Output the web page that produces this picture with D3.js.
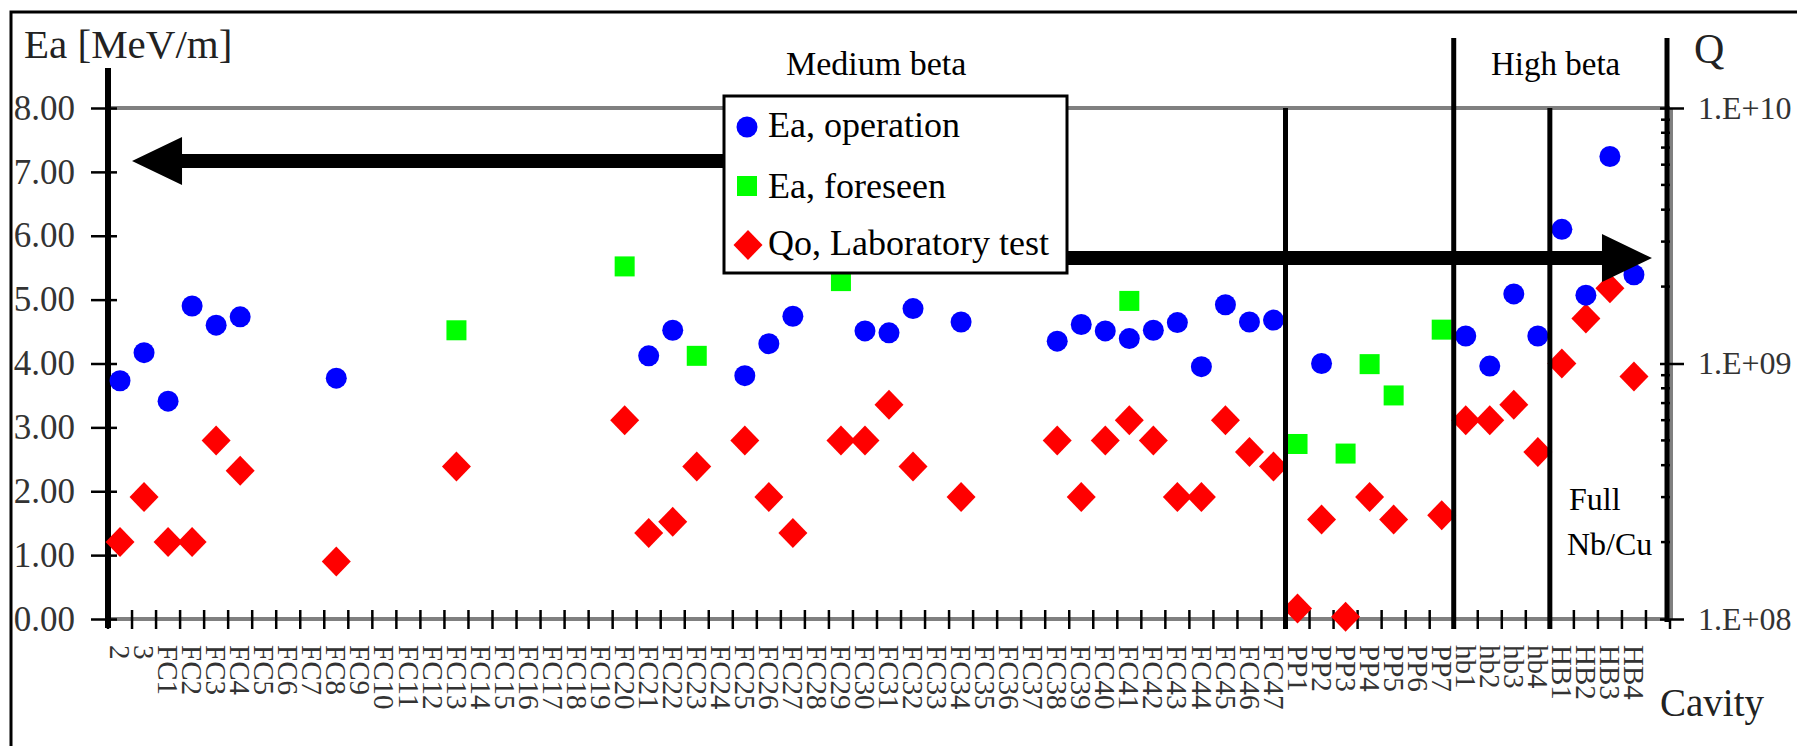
<!DOCTYPE html>
<html>
<head>
<meta charset="utf-8">
<script src="https://cdn.jsdelivr.net/npm/d3@7"></script>
<style>
  html, body { margin: 0; padding: 0; background: #fff; }
  #chart, #chart text { font-family: "Liberation Serif", "Times New Roman", Tinos, serif !important; }
</style>
</head>
<body>
<svg id="chart" width="1797" height="746"></svg>
<script>
// Cavity names along the horizontal axis
const categories = [
  "2", "3",
  "FC1", "FC2", "FC3", "FC4", "FC5", "FC6", "FC7", "FC8", "FC9", "FC10",
  "FC11", "FC12", "FC13", "FC14", "FC15", "FC16", "FC17", "FC18", "FC19", "FC20",
  "FC21", "FC22", "FC23", "FC24", "FC25", "FC26", "FC27", "FC28", "FC29", "FC30",
  "FC31", "FC32", "FC33", "FC34", "FC35", "FC36", "FC37", "FC38", "FC39", "FC40",
  "FC41", "FC42", "FC43", "FC44", "FC45", "FC46", "FC47",
  "PP1", "PP2", "PP3", "PP4", "PP5", "PP6", "PP7",
  "hb1", "hb2", "hb3", "hb4",
  "HB1", "HB2", "HB3", "HB4"
];

// Accelerating field in operation [MeV/m]
const eaOperation = [
  ["2", 3.73], ["3", 4.17], ["FC1", 3.41], ["FC2", 4.90], ["FC3", 4.60], ["FC4", 4.73],
  ["FC8", 3.77], ["FC21", 4.12], ["FC22", 4.52], ["FC25", 3.81], ["FC26", 4.31],
  ["FC27", 4.74], ["FC30", 4.51], ["FC31", 4.48], ["FC32", 4.86], ["FC34", 4.65],
  ["FC38", 4.35], ["FC39", 4.61], ["FC40", 4.51], ["FC41", 4.39], ["FC42", 4.52],
  ["FC43", 4.64], ["FC44", 3.95], ["FC45", 4.92], ["FC46", 4.65], ["FC47", 4.68],
  ["PP2", 4.00], ["hb1", 4.43], ["hb2", 3.96], ["hb3", 5.09], ["hb4", 4.43],
  ["HB1", 6.10], ["HB2", 5.07], ["HB3", 7.24], ["HB4", 5.39]
];

// Foreseen accelerating field [MeV/m]
const eaForeseen = [
  ["FC13", 4.52], ["FC20", 5.52], ["FC23", 4.12], ["FC29", 5.29], ["FC41", 4.98],
  ["PP1", 2.74], ["PP3", 2.59], ["PP4", 3.99], ["PP5", 3.50], ["PP7", 4.53]
];

// Quality factor Qo measured in the laboratory
const qoLaboratory = [
  ["2", 2.0e8], ["3", 3.0e8], ["FC1", 2.0e8], ["FC2", 2.0e8], ["FC3", 5.0e8], ["FC4", 3.8e8],
  ["FC8", 1.68e8], ["FC13", 3.95e8], ["FC20", 6.0e8], ["FC21", 2.17e8], ["FC22", 2.4e8],
  ["FC23", 3.95e8], ["FC25", 5.0e8], ["FC26", 3.0e8], ["FC27", 2.17e8], ["FC29", 5.0e8],
  ["FC30", 5.0e8], ["FC31", 6.9e8], ["FC32", 3.95e8], ["FC34", 3.0e8], ["FC38", 5.0e8],
  ["FC39", 3.0e8], ["FC40", 5.0e8], ["FC41", 6.0e8], ["FC42", 5.0e8], ["FC43", 3.0e8],
  ["FC44", 3.0e8], ["FC45", 6.0e8], ["FC46", 4.5e8], ["FC47", 3.95e8],
  ["PP1", 1.1e8], ["PP2", 2.45e8], ["PP3", 1.02e8], ["PP4", 3.0e8], ["PP5", 2.45e8],
  ["PP7", 2.55e8], ["hb1", 6.0e8], ["hb2", 6.0e8], ["hb3", 6.9e8], ["hb4", 4.5e8],
  ["HB1", 1.0e9], ["HB2", 1.5e9], ["HB3", 1.97e9], ["HB4", 8.9e8]
];

const eaTicks = [0, 1, 2, 3, 4, 5, 6, 7, 8];
const qTicks = [1e8, 1e9, 1e10];
const seriesNames = ["Ea, operation", "Ea, foreseen", "Qo, Laboratory test"];

// ---- layout ----
const X0 = 108, X1 = 1670, Y0 = 619, Y8 = 108;
const svg = d3.select("#chart");

// one trailing empty slot after the last cavity
const slotCount = categories.length + 1;
const x = d3.scaleBand().domain(d3.range(slotCount)).range([X0, X1]);
const bw = x.bandwidth();
const xEdge = i => X0 + i * bw;
const xc = name => x(categories.indexOf(name)) + bw / 2;

const y = d3.scaleLinear().domain([0, 8]).range([Y0, Y8]);
const q = d3.scaleLog().domain([1e8, 1e10]).range([Y0, Y8]);

// outer frame (top and left edges visible)
svg.append("path").attr("d", `M11,746 V12 H1797`)
  .attr("fill", "none").attr("stroke", "#000").attr("stroke-width", 3);

// grey lines at the top of the scale and at zero
[8, 0].forEach(v => {
  svg.append("line").attr("x1", X0).attr("x2", X1).attr("y1", y(v)).attr("y2", y(v))
    .attr("stroke", "#808080").attr("stroke-width", 4);
});

// category tick marks crossing the zero line
svg.append("g").selectAll("line").data(d3.range(slotCount + 1)).join("line")
  .attr("x1", i => xEdge(i)).attr("x2", i => xEdge(i))
  .attr("y1", Y0 - 9).attr("y2", Y0 + 10)
  .attr("stroke", "#000").attr("stroke-width", 2.5);

// category labels, vertical
svg.append("g").selectAll("text").data(categories).join("text")
  .attr("transform", d => `translate(${xc(d)},645) rotate(90)`)
  .attr("dy", "0.34em")
  .attr("font-size", 29)
  .attr("fill", "#333")
  .text(d => d);

// left axis
const leftAxis = svg.append("g").attr("transform", `translate(${X0},0)`)
  .call(d3.axisLeft(y).tickValues(eaTicks).tickFormat(d3.format(".2f"))
    .tickSizeInner(17).tickSizeOuter(0).tickPadding(16));
leftAxis.select(".domain").remove();
leftAxis.selectAll(".tick line").attr("x1", 9).attr("stroke", "#000").attr("stroke-width", 2.5);
leftAxis.selectAll(".tick text").attr("font-size", 35).attr("fill", "#333");
svg.append("line").attr("x1", X0).attr("x2", X0).attr("y1", 68).attr("y2", Y0 + 9)
  .attr("stroke", "#000").attr("stroke-width", 6);

// right axis (logarithmic Q)
svg.append("line").attr("x1", X1 + 1).attr("x2", X1 + 1).attr("y1", Y8).attr("y2", Y0)
  .attr("stroke", "#808080").attr("stroke-width", 4);
const minorQ = q.ticks().filter(v => !qTicks.includes(v));
svg.append("g").selectAll("line").data(minorQ).join("line")
  .attr("x1", X1 - 9).attr("x2", X1).attr("y1", d => q(d)).attr("y2", d => q(d))
  .attr("stroke", "#000").attr("stroke-width", 2.5);
const rightAxis = svg.append("g").attr("transform", `translate(${X1 - 3},0)`)
  .call(d3.axisRight(q).tickValues(qTicks)
    .tickFormat(d => "1.E+" + String(Math.round(Math.log10(d))).padStart(2, "0"))
    .tickSizeInner(17).tickSizeOuter(0).tickPadding(14));
rightAxis.select(".domain").remove();
rightAxis.selectAll(".tick line").attr("x1", -7).attr("stroke", "#000").attr("stroke-width", 2.5);
rightAxis.selectAll(".tick text").attr("font-size", 32).attr("fill", "#333");
svg.append("line").attr("x1", X1 - 3).attr("x2", X1 - 3).attr("y1", 38).attr("y2", Y0 + 3)
  .attr("stroke", "#000").attr("stroke-width", 5);

// section separators
const separators = [
  { at: categories.indexOf("PP1"), top: Y8 },
  { at: categories.indexOf("hb1"), top: 38 },
  { at: categories.indexOf("HB1"), top: Y8 }
];

// axis titles and section captions
svg.append("text").attr("x", 24).attr("y", 58).attr("font-size", 41).attr("fill", "#222").text("Ea [MeV/m]");
svg.append("text").attr("x", 1694).attr("y", 63).attr("font-size", 42).attr("fill", "#222").text("Q");
svg.append("text").attr("x", 1660).attr("y", 716).attr("font-size", 39).attr("fill", "#222").text("Cavity");
svg.append("text").attr("x", 786).attr("y", 75).attr("font-size", 34).text("Medium beta");
svg.append("text").attr("x", 1491).attr("y", 75).attr("font-size", 33).text("High beta");
svg.append("text").attr("x", 1569).attr("y", 510).attr("font-size", 32).text("Full");
svg.append("text").attr("x", 1567).attr("y", 555).attr("font-size", 32).text("Nb/Cu");

// markers
const circle = (g, cx, cy) => g.append("circle").attr("cx", cx).attr("cy", cy).attr("r", 10.5).attr("fill", "#0000ff");
const square = (g, cx, cy) => g.append("rect").attr("x", cx - 10).attr("y", cy - 10).attr("width", 20).attr("height", 20).attr("fill", "#00ff00");
const diamond = (g, cx, cy) => g.append("path")
  .attr("d", `M${cx},${cy - 15} L${cx + 14.5},${cy} L${cx},${cy + 15} L${cx - 14.5},${cy} Z`).attr("fill", "#ff0000");

const marks = svg.append("g");
qoLaboratory.forEach(([c, v]) => diamond(marks, xc(c), q(v)));
eaForeseen.forEach(([c, v]) => square(marks, xc(c), y(v)));
eaOperation.forEach(([c, v]) => circle(marks, xc(c), y(v)));

separators.forEach(s => {
  svg.append("line").attr("x1", xEdge(s.at)).attr("x2", xEdge(s.at))
    .attr("y1", s.top).attr("y2", Y0 + 10)
    .attr("stroke", "#000").attr("stroke-width", 5);
});

// direction arrows
function arrow(xTail, xTip, yv) {
  const cy = y(yv), dir = Math.sign(xTip - xTail), head = 50, half = 24, shaft = 7;
  const xb = xTip - dir * head;
  svg.append("path")
    .attr("d", `M${xTail},${cy - shaft} L${xb},${cy - shaft} L${xb},${cy - half} L${xTip},${cy}
                L${xb},${cy + half} L${xb},${cy + shaft} L${xTail},${cy + shaft} Z`)
    .attr("fill", "#000");
}
arrow(760, xEdge(1), 7.17);
arrow(1040, xEdge(64.25), 5.65);

// legend
const lg = svg.append("g");
lg.append("rect").attr("x", 724).attr("y", 96).attr("width", 343).attr("height", 177)
  .attr("fill", "#fff").attr("stroke", "#000").attr("stroke-width", 3);
circle(lg, 747, 127);
square(lg, 747, 186);
diamond(lg, 748, 245);
[137, 198, 255].forEach((by, i) => {
  lg.append("text").attr("x", 768).attr("y", by).attr("font-size", 36).text(seriesNames[i]);
});
</script>
</body>
</html>
